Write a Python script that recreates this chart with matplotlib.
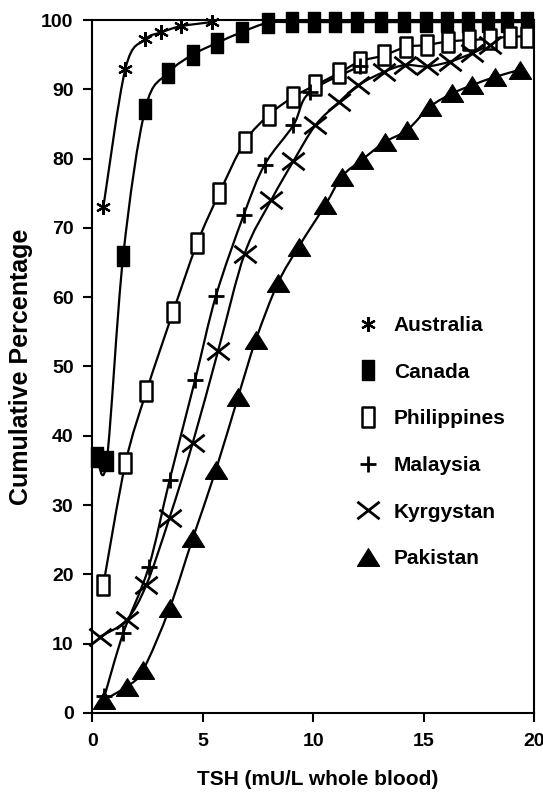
import numpy as np
import matplotlib
matplotlib.use("Agg")
import matplotlib.pyplot as plt
from matplotlib.path import Path
from matplotlib.patches import PathPatch
from matplotlib.lines import Line2D

plt.rcParams['font.family'] = ['Liberation Sans', 'DejaVu Sans']

# ---- data ----
aus_x = [0.5, 1.5, 2.4, 3.1, 4.0, 5.4]
aus_y = [73.0, 93.0, 97.2, 98.2, 99.1, 99.7]

can_x = [0.2, 0.65, 1.4, 2.4, 3.45, 4.55, 5.65, 6.8, 7.95, 9.05, 10.05, 11.0,
         12.0, 13.05, 14.1, 15.1, 16.05, 17.0, 17.9, 18.8, 19.7]
can_y = [37.0, 36.3, 66.0, 87.2, 92.4, 95.0, 96.7, 98.3, 99.6, 99.7, 99.7, 99.7,
         99.7, 99.7, 99.7, 99.7, 99.7, 99.7, 99.7, 99.7, 99.7]

phi_x = [0.5, 1.5, 2.45, 3.65, 4.75, 5.75, 6.9, 8.0, 9.1, 10.1, 11.15, 12.1,
         13.2, 14.2, 15.15, 16.1, 17.05, 18.0, 18.9, 19.7]
phi_y = [18.5, 36.0, 46.4, 57.8, 67.8, 75.0, 82.4, 86.3, 88.9, 90.6, 92.3, 94.0,
         94.9, 96.1, 96.4, 96.9, 97.1, 97.3, 97.6, 97.6]

mal_x = [0.55, 1.4, 2.55, 3.5, 4.65, 5.6, 6.85, 7.8, 9.1, 9.85, 12.1]
mal_y = [2.4, 11.5, 21.0, 33.6, 48.0, 60.2, 71.8, 79.1, 84.8, 89.6, 93.3]

kyr_x = [0.35, 1.55, 2.45, 3.5, 4.55, 5.7, 6.9, 8.1, 9.1, 10.1, 11.15, 12.05,
         13.2, 14.15, 15.15, 16.2, 17.2, 18.0]
kyr_y = [11.0, 13.4, 18.5, 28.2, 39.0, 52.3, 66.3, 74.0, 79.6, 84.8, 88.1, 90.6,
         92.5, 93.5, 93.3, 94.0, 95.2, 96.4]

pak_x = [0.55, 1.55, 2.3, 3.5, 4.55, 5.6, 6.6, 7.4, 8.4, 9.35, 10.55, 11.3,
         12.2, 13.25, 14.25, 15.3, 16.3, 17.2, 18.25, 19.35]
pak_y = [1.9, 3.8, 6.2, 15.1, 25.2, 35.1, 45.6, 53.8, 62.0, 67.3, 73.3, 77.4,
         79.8, 82.4, 84.1, 87.5, 89.4, 90.6, 91.8, 92.8]

labels = ["Australia", "Canada", "Philippines", "Malaysia", "Kyrgystan", "Pakistan"]
x_ticks = [0, 5, 10, 15, 20]
y_ticks = list(range(0, 101, 10))

# ---- marker shapes ----
rect = Path([(-0.62, -1), (0.62, -1), (0.62, 1), (-0.62, 1), (-0.62, -1)],
            [Path.MOVETO, Path.LINETO, Path.LINETO, Path.LINETO, Path.CLOSEPOLY])
tri = Path([(-1, -0.8), (1, -0.8), (0, 0.8), (-1, -0.8)],
           [Path.MOVETO, Path.LINETO, Path.LINETO, Path.CLOSEPOLY])
cross = Path([(-1, -0.78), (1, 0.78), (-1, 0.78), (1, -0.78)],
             [Path.MOVETO, Path.LINETO, Path.MOVETO, Path.LINETO])

styles = [
    dict(marker=(6, 2, 0), ms=10.5, mew=1.6, mfc='black', mec='black'),
    dict(marker=rect, ms=14, mew=1.0, mfc='black', mec='black'),
    dict(marker=rect, ms=15, mew=1.8, mfc='white', mec='black'),
    dict(marker='+', ms=12, mew=2.0, mfc='black', mec='black'),
    dict(marker=cross, ms=16, mew=2.0, mfc='black', mec='black'),
    dict(marker=tri, ms=16, mew=0.8, mfc='black', mec='black'),
]


def smooth_path(x, y):
    pts = np.column_stack([x, y]).astype(float)
    n = len(pts)
    verts = [pts[0]]
    codes = [Path.MOVETO]
    for i in range(n - 1):
        p0 = pts[i - 1] if i > 0 else pts[i]
        p1 = pts[i]
        p2 = pts[i + 1]
        p3 = pts[i + 2] if i + 2 < n else pts[i + 1]
        verts += [p1 + (p2 - p0) / 6.0, p2 - (p3 - p1) / 6.0, p2]
        codes += [Path.CURVE4] * 3
    return Path(verts, codes)


fig = plt.figure(figsize=(5.43, 8.01), dpi=100)
ax = fig.add_axes([0.170, 0.110, 0.8134, 0.865])

series = [(aus_x, aus_y), (can_x, can_y), (phi_x, phi_y),
          (mal_x, mal_y), (kyr_x, kyr_y), (pak_x, pak_y)]

handles = []
for (xs, ys), st, lab in zip(series, styles, labels):
    ax.add_patch(PathPatch(smooth_path(xs, ys), fill=False, lw=1.6,
                           edgecolor='black', zorder=2))
    ax.plot(xs, ys, linestyle='none', marker=st['marker'], ms=st['ms'],
            mew=st['mew'], mfc=st['mfc'], mec=st['mec'], zorder=3, clip_on=False)
    handles.append(Line2D([], [], linestyle='none', marker=st['marker'],
                          ms=st['ms'], mew=st['mew'], mfc=st['mfc'], mec=st['mec']))

ax.set_xlim(0, 20)
ax.set_ylim(0, 100)
ax.set_xticks(x_ticks)
ax.set_yticks(y_ticks)
for s in ax.spines.values():
    s.set_linewidth(1.5)
ax.tick_params(direction='out', length=6.5, width=1.5, labelsize=14, pad=7)
ax.tick_params(axis='x', pad=8)
for t in ax.get_xticklabels() + ax.get_yticklabels():
    t.set_fontweight('bold')

ax.set_xlabel("TSH (mU/L whole blood)", fontsize=15, fontweight='bold')
ax.set_ylabel("Cumulative Percentage", fontsize=18, fontweight='bold')
ax.xaxis.set_label_coords(0.51, -0.083)
ax.yaxis.set_label_coords(-0.134, 0.50)

leg = ax.legend(handles, labels, loc='upper left', bbox_to_anchor=(0.60, 0.573),
                frameon=False, prop=dict(size=15, weight='bold'),
                handlelength=1.0, handletextpad=0.75, labelspacing=1.33,
                borderaxespad=0, borderpad=0)

fig.savefig("out.png", dpi=100)
